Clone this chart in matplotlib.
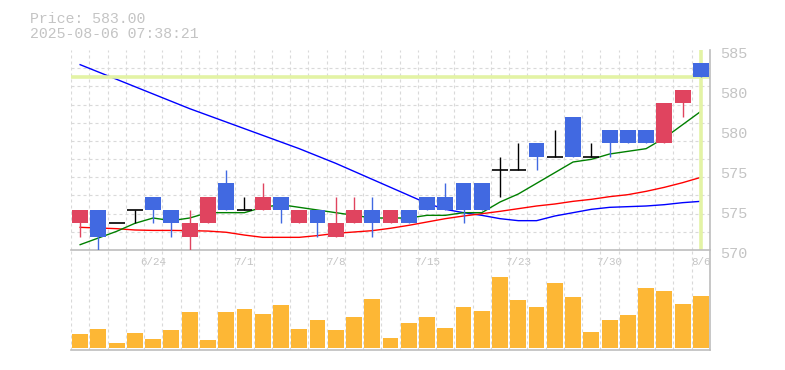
import matplotlib
matplotlib.use("Agg")
import matplotlib.pyplot as plt
import numpy as np
from matplotlib.transforms import ScaledTranslation

plt.rcParams['font.family'] = ['Liberation Mono', 'DejaVu Sans Mono']

# daily data
dates = ["6/18", "6/19", "6/20", "6/23", "6/24", "6/25", "6/26", "6/27", "6/30", "7/1",
         "7/2", "7/3", "7/4", "7/7", "7/8", "7/9", "7/10", "7/11", "7/14", "7/15",
         "7/16", "7/17", "7/18", "7/22", "7/23", "7/24", "7/25", "7/28", "7/29", "7/30",
         "7/31", "8/1", "8/4", "8/5", "8/6"]
opens = [572, 573, 572, 573, 574, 573, 571, 572, 575, 573, 573, 574, 572, 573, 571, 572, 573, 572,
         573, 574, 574, 575, 575, 576, 576, 578, 577, 580, 577, 579, 579, 579, 578, 581, 584]
closes = [573, 571, 572, 573, 573, 572, 572, 574, 573, 573, 574, 573, 573, 572, 572, 573, 572, 573,
          572, 573, 573, 573, 573, 576, 576, 577, 577, 577, 577, 578, 578, 578, 581, 582, 583]
highs = [573, 573, 572, 573, 574, 573, 573, 574, 576, 574, 575, 574, 573, 573, 574, 574, 574, 573,
         573, 574, 575, 575, 575, 577, 578, 578, 579, 580, 578, 579, 579, 579, 581, 582, 584]
lows = [571, 570, 572, 572, 572, 571, 570, 572, 573, 573, 573, 572, 572, 571, 571, 572, 571, 572,
        572, 573, 573, 572, 573, 574, 576, 576, 577, 577, 577, 577, 578, 578, 578, 580, 583]
volumes = [1400, 1900, 500, 1500, 900, 1800, 3600, 800, 3600, 3900, 3400, 4300, 1900, 2800, 1800,
           3100, 4900, 1000, 2500, 3100, 2000, 4100, 3700, 7100, 4800, 4100, 6500, 5100, 1600, 2800,
           3300, 6000, 5700, 4400, 5200]

# moving averages
ma_short = [570.4, 570.9, 571.4, 572.0, 572.4, 572.2, 572.4, 572.8, 572.8, 572.8, 573.2, 573.4,
            573.2, 573.0, 572.8, 572.6, 572.4, 572.4, 572.4, 572.6, 572.6, 572.8, 572.8, 573.6,
            574.2, 575.0, 575.8, 576.6, 576.8, 577.2, 577.4, 577.6, 578.4, 579.4, 580.4]
ma_mid = [571.7, 571.65, 571.6, 571.5, 571.47, 571.47, 571.45, 571.42, 571.33, 571.12, 570.95,
          570.95, 570.95, 571.08, 571.25, 571.35, 571.45, 571.63, 571.85, 572.1, 572.35, 572.55,
          572.72, 572.9, 573.1, 573.3, 573.45, 573.65, 573.8, 574.0, 574.15, 574.4, 574.7, 575.05,
          575.45]
ma_long = [583.9, 583.35, 582.8, 582.25, 581.7, 581.15, 580.6, 580.1, 579.6, 579.1, 578.6, 578.1,
           577.6, 577.05, 576.5, 575.9, 575.3, 574.7, 574.1, 573.5, 573.05, 572.8, 572.6, 572.35,
           572.2, 572.2, 572.55, 572.8, 573.05, 573.2, 573.25, 573.3, 573.4, 573.55, 573.65]

last_price = 583.00
stamp = "2025-08-06 07:38:21"
y_ticks = [570, 573, 576, 579, 582, 585]
y_labels = ["570", "575", "575", "580", "580", "585"]

UP = '#e0445f'
DOWN = '#4169e1'
GRAY = '#bdbdbd'
GRID = '#d9d9d9'

fig = plt.figure(figsize=(7.85, 3.7), dpi=100)
ax = fig.add_axes([71 / 785, 120 / 370, 639 / 785, 200 / 370])
axv = fig.add_axes([71 / 785, 20.5 / 370, 639 / 785, 99.5 / 370], sharex=ax)
axv.patch.set_alpha(0)

x = np.arange(1, len(dates) + 1)
o = np.array(opens)
c = np.array(closes)

for a in (ax, axv):
    a.set_xticks(np.arange(0.5, len(dates) + 1, 1), minor=True)
    a.grid(True, which='minor', axis='x', color=GRID, lw=0.8, ls=(0, (2.7, 2.7)))
    a.spines['left'].set_visible(False)
    a.spines['top'].set_visible(False)
    for s in ('bottom', 'right'):
        a.spines[s].set_color(GRAY)
        a.spines[s].set_linewidth(1.2)
    a.tick_params(which='both', length=0)
    a.set_axisbelow(True)

ax.set_xlim(0.5, len(dates) + 0.5)
ax.set_ylim(570, 585)
ax.set_yticks(np.linspace(570, 585, 12), minor=True)
ax.grid(True, which='minor', axis='y', color=GRID, lw=0.8, ls=(0, (2.7, 2.7)))

# moving averages
ax.plot(x, ma_long, color='#0000ff', lw=1.0, zorder=2)
ax.plot(x, ma_mid, color='#ff0000', lw=1.0, zorder=2)
ax.plot(x, ma_short, color='#008000', lw=1.0, zorder=2)

# current price marker
ax.axhline(last_price, color='#e3f3a5', lw=2.6, zorder=2.5)
ax.axvline(x[-1], color='#e3f3a5', lw=2.6, zorder=2.5)

# candles
cols = np.where(c > o, UP, np.where(c < o, DOWN, 'black'))
ax.vlines(x, lows, highs, colors=cols, lw=1.0, zorder=3)
body = c != o
ax.bar(x[body], np.abs(c - o)[body], bottom=np.minimum(o, c)[body], width=0.87,
       color=cols[body], zorder=4)
doji = ~body
ax.hlines(c[doji], x[doji] - 0.435, x[doji] + 0.435, colors='black', lw=1.2, zorder=4)

# axis labels
ax.yaxis.tick_right()
ax.set_yticks(y_ticks)
ax.set_yticklabels(y_labels)
ax.tick_params(axis='y', pad=7, labelsize=11, labelcolor='#c4c4c4')
for lab in ax.get_yticklabels():
    lab.set_transform(lab.get_transform() + ScaledTranslation(0, -3 / 100, fig.dpi_scale_trans))

lab_idx = np.arange(4, len(dates), 5)
ax.set_xticks(x[lab_idx])
ax.set_xticklabels([dates[i] for i in lab_idx])
ax.tick_params(axis='x', pad=5, labelsize=7.8, labelcolor='#c4c4c4')

# volume
axv.bar(x, volumes, width=0.87, color='#fdb735', zorder=2)
axv.set_ylim(-180, 9770)
axv.set_yticks([])
axv.tick_params(axis='x', labelbottom=False)

fig.text(30 / 785, 1 - 22.7 / 370, f"Price: {last_price:.2f}", fontsize=10.7, color='#c4c4c4',
         va='baseline')
fig.text(30 / 785, 1 - 37.7 / 370, stamp, fontsize=10.7, color='#c4c4c4', va='baseline')

fig.savefig("out.png", dpi=100)
